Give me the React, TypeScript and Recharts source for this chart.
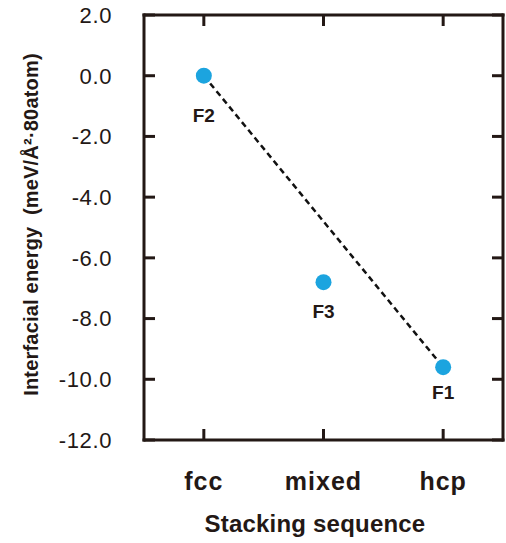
import { ComposedChart, Line, XAxis, YAxis, Label } from 'recharts'

// ─── data ────────────────────────────────────────────────────
const CATEGORIES = ['fcc', 'mixed', 'hcp']
const ENERGY = [0.0, -6.8, -9.6]           // meV/Å²·80atom
const POINT_NAMES = ['F2', 'F3', 'F1']
const TREND = [0.0, null, -9.6]             // dashed guide: fcc → hcp only
const Y_TICKS = [-12, -10, -8, -6, -4, -2, 0, 2]

const data = CATEGORIES.map((cat, i) => ({
  cat,
  energy: ENERGY[i],
  trend: TREND[i],
  name: POINT_NAMES[i],
}))

// ─── styles ─────────────────────────────────────────────────
const FONT = '"Liberation Sans", Arial, Helvetica, sans-serif'
const INK = '#231815'
const DOT_COLOR = '#1ca4df'
const FRAME = { stroke: INK, strokeWidth: 3, strokeLinecap: 'square' as const }
const TICK_LINE = { stroke: INK, strokeWidth: 3 }

// label distance below each point (px)
const LABEL_DY: Record<string, number> = { F2: 40, F3: 29, F1: 25 }

const renderPoint = (props: any) => {
  const { cx, cy, payload, index } = props
  if (cx == null || cy == null) return <g key={`p-${index}`} />
  return (
    <g key={`p-${index}`}>
      <circle cx={cx} cy={cy} r={8} fill={DOT_COLOR} />
      <text
        x={cx}
        y={cy + (LABEL_DY[payload.name] ?? 28)}
        textAnchor="middle"
        dominantBaseline="central"
        fontFamily={FONT}
        fontWeight={700}
        fontSize={19}
        fill={INK}
      >
        {payload.name}
      </text>
    </g>
  )
}

const YTitle = (props: any) => {
  const vb = props.viewBox
  const cx = vb.x + 31
  const cy = vb.y + vb.height / 2 - 3
  return (
    <text
      x={cx}
      y={cy}
      transform={`rotate(-90 ${cx} ${cy})`}
      textAnchor="middle"
      dominantBaseline="central"
      fontFamily={FONT}
      fontWeight={700}
      fontSize={20}
      letterSpacing={0.2}
      fill={INK}
      style={{ whiteSpace: 'pre' }}
    >
      {'Interfacial energy  (meV/Å²·80atom)'}
    </text>
  )
}

const XTitle = (props: any) => {
  const vb = props.viewBox
  return (
    <text
      x={vb.x + vb.width / 2 - 8.5}
      y={vb.y + 92}
      textAnchor="middle"
      fontFamily={FONT}
      fontWeight={700}
      fontSize={24}
      letterSpacing={0.2}
      fill={INK}
    >
      Stacking sequence
    </text>
  )
}

export default function App() {
  return (
    <div style={{ position: 'absolute', left: 0, top: 0, width: 506, height: 543, background: '#fff' }}>
      <ComposedChart
        width={506}
        height={543}
        data={data}
        margin={{ top: 14, right: 2, left: 0, bottom: 0 }}
      >
        <XAxis
          dataKey="cat"
          scale="band"
          height={103}
          axisLine={FRAME}
          tickLine={TICK_LINE}
          tickSize={-11}
          tickMargin={43}
          tick={{ fontSize: 25, fontWeight: 700, fill: INK, fontFamily: FONT, letterSpacing: 1 }}
        >
          <Label content={XTitle} />
        </XAxis>
        <XAxis
          xAxisId="top"
          dataKey="cat"
          scale="band"
          orientation="top"
          height={1}
          axisLine={FRAME}
          tickLine={TICK_LINE}
          tickSize={-11}
          tickFormatter={() => ''}
        />
        <YAxis
          type="number"
          domain={[-12, 2]}
          ticks={Y_TICKS}
          allowDataOverflow
          width={144}
          axisLine={FRAME}
          tickLine={TICK_LINE}
          tickSize={-11}
          tickMargin={43}
          tickFormatter={(v: number) => v.toFixed(1)}
          tick={{ fontSize: 22, fill: INK, fontFamily: FONT, letterSpacing: 0.6 }}
        >
          <Label content={YTitle} />
        </YAxis>
        <YAxis
          yAxisId="right"
          orientation="right"
          type="number"
          domain={[-12, 2]}
          ticks={Y_TICKS}
          allowDataOverflow
          width={1}
          axisLine={FRAME}
          tickLine={TICK_LINE}
          tickSize={-11}
          tickFormatter={() => ''}
        />
        <Line
          dataKey="energy"
          stroke="none"
          dot={renderPoint}
          activeDot={false}
          isAnimationActive={false}
        />
        <Line
          dataKey="trend"
          stroke="#111"
          strokeWidth={2.5}
          strokeDasharray="6 4"
          dot={false}
          activeDot={false}
          connectNulls
          isAnimationActive={false}
        />
      </ComposedChart>
    </div>
  )
}
